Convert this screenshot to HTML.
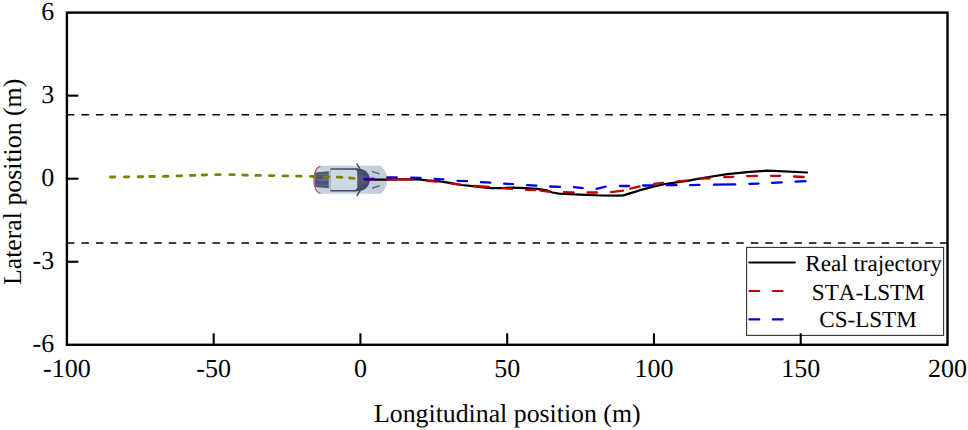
<!DOCTYPE html>
<html><head><meta charset="utf-8"><style>
html,body{margin:0;padding:0;background:#fff;width:968px;height:430px;overflow:hidden}
svg{display:block}
text{font-family:"Liberation Serif", serif;fill:#000;text-rendering:geometricPrecision;font-kerning:none}
</style></head><body>
<svg width="968" height="430" viewBox="0 0 968 430">
<rect width="968" height="430" fill="#fff"/>
<line x1="66.9" y1="114.7" x2="947.5" y2="114.7" stroke="#000" stroke-width="1.4" stroke-dasharray="7.5 7.05"/>
<line x1="66.9" y1="243" x2="947.5" y2="243" stroke="#000" stroke-width="1.4" stroke-dasharray="7.5 7.05"/>

<g id="car">
 <path d="M320.4,165.8 L379.7,165.8 C381.5,166.3 383.2,168.2 384.4,170.2 L384.8,171.8 L386.6,173.6 L386.6,186 L384.8,187.8 L384.4,189.4 C383.2,191.4 381.5,193.3 379.7,193.8 L320.4,193.8 C316,193.1 313.5,187 313.5,179.8 C313.5,172.6 316,166.5 320.4,165.8 Z" fill="#c5d1dc"/>
 <path d="M369,166.2 L379.7,166.2 C381.5,166.6 383.2,168.4 384.3,170.3 L384.6,171.9 L386.2,173.7 L386.2,185.9 L384.6,187.7 L384.3,189.3 C383.2,191.2 381.5,193 379.7,193.4 L369,193.4 Z" fill="#c1cdd8"/>
 <path d="M320.4,166.3 C316.3,167 313.9,172.8 313.9,179.8 C313.9,186.8 316.3,192.6 320.4,193.3" fill="none" stroke="#d04a5e" stroke-width="1.1"/>
 <path d="M315.3,172.6 L328.9,171.2 L328.9,188.3 L315.3,186.9 C314.6,183.5 314.6,176 315.3,172.6 Z" fill="#4a5673"/>
 <path d="M315,174.2 L328.9,173.6 L328.9,174.6 L315,175.2 Z M315,178.6 L328.9,178.5 L328.9,180.9 L315,180.8 Z M315,184.4 L328.9,185 L328.9,186 L315,185.4 Z" fill="#5f6b88"/>
 <path d="M330.5,168.2 L356.5,168.2 C364.8,168.2 369.8,173.2 369.8,179.8 C369.8,186.4 364.8,191.4 356.5,191.4 L330.5,191.4 Z" fill="#404b67"/>
 <path d="M357.5,171 C363,172 366.5,175 367.8,179.8 C366.5,184.6 363,187.6 357.5,188.6 Z" fill="#4c5874"/>
 <path d="M358,173.2 L366,175 M358,186.4 L366,184.6" stroke="#3a4460" stroke-width="0.9"/>
 <path d="M330.8,169.7 L354.3,169.7 Q357.3,169.7 357.3,172.8 L357.3,186.8 Q357.3,189.9 354.3,189.9 L330.8,189.9 Z" fill="#cdd8e2"/>
 <rect x="328.8" y="171" width="2.1" height="17.6" fill="#b8b9be"/>
 <path d="M357,164.1 L359.7,168.2 M357,195.5 L359.7,191.4" stroke="#3a4560" stroke-width="1.4" stroke-linecap="round"/>
 <path d="M372.6,171.6 L378.9,173.7 M372.6,188 L379.3,185.9" stroke="#56637e" stroke-width="1.4" stroke-linecap="round"/>
</g>
<g fill="none" stroke="#808000" stroke-width="2.85" stroke-linecap="round" stroke-linejoin="round"><polyline points="110.4,177.0 114.8,177.0"/><polyline points="124.4,176.9 126.0,176.9 128.8,176.9"/><polyline points="138.2,176.7 140.0,176.7 142.7,176.7"/><polyline points="149.8,176.5 152.0,176.5 154.2,176.5"/><polyline points="163.4,176.3 166.0,176.2 167.9,176.2"/><polyline points="177.0,175.9 179.0,175.9 181.5,175.8"/><polyline points="190.4,175.5 192.0,175.4 194.9,175.3"/><polyline points="202.1,175.1 204.0,175.0 206.6,174.9"/><polyline points="215.8,174.7 218.0,174.6 220.2,174.6"/><polyline points="229.8,174.6 232.0,174.6 234.2,174.7"/><polyline points="242.9,175.0 245.0,175.1 247.4,175.2"/><polyline points="255.9,175.4 258.0,175.4 260.4,175.4"/><polyline points="269.4,175.6 272.0,175.6 273.9,175.6"/><polyline points="283.2,175.9 285.0,175.9 287.7,175.9"/><polyline points="296.6,176.1 299.0,176.1 301.1,176.2"/><polyline points="310.4,176.4 313.0,176.5 314.9,176.5"/><polyline points="324.4,176.7 326.0,176.7 328.9,176.8"/><polyline points="337.4,177.1 339.0,177.2 341.9,177.4"/><polyline points="349.6,178.0 351.0,178.1 354.0,178.3"/></g>
<polyline points="366.0,179.5 374.9,179.6 386.0,179.6 400.0,179.4 415.0,179.1 427.4,180.4 439.8,181.3 449.7,182.8 461.5,185.0 470.0,185.9 479.3,186.9 490.5,188.2 501.0,188.1 513.4,187.6 525.0,188.1 537.4,188.8 546.7,190.3 552.3,192.5 559.1,193.6 580.0,194.6 601.7,195.5 618.0,195.6 623.4,195.4 628.0,193.9 635.0,191.8 640.0,190.2 653.6,186.7 664.8,184.0 678.4,182.1 690.0,180.4 695.0,179.3 708.6,177.0 727.2,174.2 745.0,172.3 750.0,171.8 766.7,170.7 773.9,170.8 807.0,172.5" fill="none" stroke="#000" stroke-width="2.25" stroke-linejoin="round" stroke-linecap="round"/>
<g fill="none" stroke="#c20000" stroke-width="2.3" stroke-linecap="round" stroke-linejoin="round"><polyline points="364.4,179.6 374.0,179.6"/><polyline points="387.3,179.3 412.3,179.4"/><polyline points="427.2,180.8 436.9,181.7"/><polyline points="450.7,183.3 460.2,184.6"/><polyline points="474.1,185.9 488.8,187.0"/><polyline points="502.6,188.2 512.1,188.9"/><polyline points="526.0,189.8 535.5,190.2"/><polyline points="540.6,190.6 550.0,191.8"/><polyline points="564.1,192.2 573.6,192.3"/><polyline points="587.5,192.5 597.0,192.5"/><polyline points="611.0,192.2 623.0,190.7"/><polyline points="630.3,188.6 639.6,186.4"/><polyline points="654.0,183.9 663.1,182.8"/><polyline points="677.2,181.4 686.7,180.6"/><polyline points="700.6,178.7 709.8,178.3"/><polyline points="724.2,177.1 733.3,176.8"/><polyline points="747.1,176.1 757.0,175.9"/><polyline points="771.0,175.8 780.2,175.8"/><polyline points="794.1,176.5 803.7,177.0"/></g>
<g fill="none" stroke="#0000dc" stroke-width="2.3" stroke-linecap="round" stroke-linejoin="round"><polyline points="364.4,179.0 373.9,179.0"/><polyline points="387.3,177.4 396.8,177.4"/><polyline points="411.2,177.6 420.5,177.9"/><polyline points="434.6,178.9 443.4,179.3"/><polyline points="457.5,180.8 467.0,181.2"/><polyline points="480.9,182.2 490.4,182.6"/><polyline points="504.2,183.7 513.0,184.2"/><polyline points="527.1,185.2 536.4,185.7"/><polyline points="550.2,186.5 560.0,186.9"/><polyline points="574.0,187.1 582.7,188.2"/><polyline points="596.5,188.8 605.7,186.6"/><polyline points="620.0,186.0 629.2,186.0"/><polyline points="643.1,185.5 652.9,185.5"/><polyline points="666.7,185.2 676.5,185.2"/><polyline points="690.2,185.1 699.5,184.8"/><polyline points="713.9,184.7 735.2,184.4"/><polyline points="749.3,183.8 758.5,183.6"/><polyline points="772.0,182.8 781.6,182.3"/><polyline points="795.5,181.6 805.5,181.1"/></g>
<rect x="746.6" y="247.4" width="197" height="88" fill="#fff" stroke="#333" stroke-width="1.1"/>
<line x1="749.4" y1="262.5" x2="794.8" y2="262.5" stroke="#000" stroke-width="2.2" stroke-linecap="round"/>
<g fill="none" stroke="#c20000" stroke-width="2.2" stroke-linecap="round" stroke-linejoin="round"><polyline points="749.4,291.0 759.2,291.0"/><polyline points="772.8,291.0 782.6,291.0"/></g>
<g fill="none" stroke="#0000dc" stroke-width="2.2" stroke-linecap="round" stroke-linejoin="round"><polyline points="749.4,319.4 759.2,319.4"/><polyline points="772.8,319.4 782.6,319.4"/></g>
<text x="873.6" y="271.2" font-size="23.1" text-anchor="middle">Real trajectory</text>
<text x="868.3" y="299.6" font-size="23.1" text-anchor="middle">STA-LSTM</text>
<text x="868" y="327.2" font-size="23.1" text-anchor="middle">CS-LSTM</text>
<rect x="66.9" y="12.6" width="880.6" height="332.2" fill="none" stroke="#000" stroke-width="2.4"/>
<text x="66.90" y="377.4" font-size="26" text-anchor="middle">-100</text>
<line x1="213.67" y1="344.8" x2="213.67" y2="333.3" stroke="#000" stroke-width="2.1"/>
<text x="213.67" y="377.4" font-size="26" text-anchor="middle">-50</text>
<line x1="360.43" y1="344.8" x2="360.43" y2="333.3" stroke="#000" stroke-width="2.1"/>
<text x="360.43" y="377.4" font-size="26" text-anchor="middle">0</text>
<line x1="507.20" y1="344.8" x2="507.20" y2="333.3" stroke="#000" stroke-width="2.1"/>
<text x="507.20" y="377.4" font-size="26" text-anchor="middle">50</text>
<line x1="653.97" y1="344.8" x2="653.97" y2="333.3" stroke="#000" stroke-width="2.1"/>
<text x="653.97" y="377.4" font-size="26" text-anchor="middle">100</text>
<line x1="800.73" y1="344.8" x2="800.73" y2="333.3" stroke="#000" stroke-width="2.1"/>
<text x="800.73" y="377.4" font-size="26" text-anchor="middle">150</text>
<text x="947.50" y="377.4" font-size="26" text-anchor="middle">200</text>
<text x="54.2" y="20.20" font-size="26" text-anchor="end">6</text>
<line x1="66.9" y1="95.65" x2="78.4" y2="95.65" stroke="#000" stroke-width="2.1"/>
<text x="54.2" y="103.25" font-size="26" text-anchor="end">3</text>
<line x1="66.9" y1="178.70" x2="78.4" y2="178.70" stroke="#000" stroke-width="2.1"/>
<text x="54.2" y="186.30" font-size="26" text-anchor="end">0</text>
<line x1="66.9" y1="261.75" x2="78.4" y2="261.75" stroke="#000" stroke-width="2.1"/>
<text x="54.2" y="269.35" font-size="26" text-anchor="end">-3</text>
<text x="54.2" y="352.40" font-size="26" text-anchor="end">-6</text>
<text x="507.3" y="421.8" font-size="25.8" text-anchor="middle">Longitudinal position (m)</text>
<text transform="translate(20.5,181.9) rotate(-90)" x="0" y="0" font-size="25.8" text-anchor="middle">Lateral position (m)</text>
</svg>
</body></html>
